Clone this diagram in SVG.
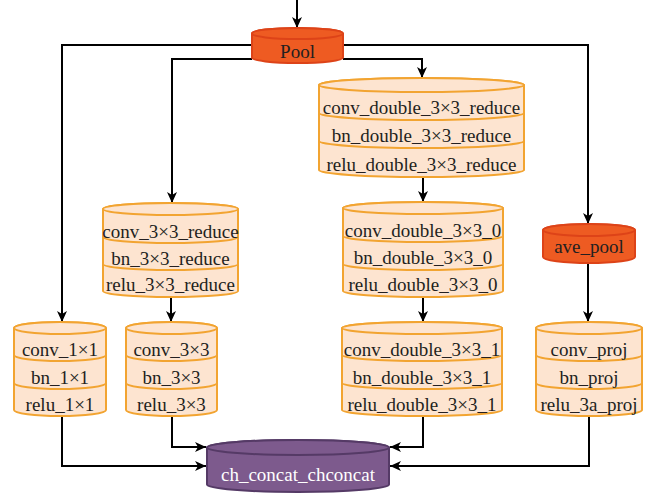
<svg xmlns="http://www.w3.org/2000/svg" width="649" height="494" viewBox="0 0 649 494">
<style>
.stk{fill:#FDE4D0;stroke:#F2A431;stroke-width:2}
.pool{fill:#EE5B22;stroke:#DD4318;stroke-width:2}
.cat{fill:#7D5A8D;stroke:#553A66;stroke-width:2}
.t{font-family:"Liberation Serif","Times New Roman",serif;font-size:19px;fill:#231F20;text-anchor:middle}
.tw{font-family:"Liberation Serif","Times New Roman",serif;font-size:19px;fill:#FFFFFF;text-anchor:middle}
.e{fill:none;stroke:#000;stroke-width:2}
</style>
<defs>
<marker id="ah" markerUnits="userSpaceOnUse" markerWidth="12" markerHeight="10" refX="11" refY="5" orient="auto">
<path d="M0,0 L11,5 L0,10 L3,5 z" fill="#000"/>
</marker>
</defs>
<g id="connectors">
<path class="e" d="M297 0 V28" marker-end="url(#ah)"/>
<path class="e" d="M252 45 H62 V322" marker-end="url(#ah)"/>
<path class="e" d="M252 59 H172 V203" marker-end="url(#ah)"/>
<path class="e" d="M343 45 H588 V224" marker-end="url(#ah)"/>
<path class="e" d="M343 59 H422 V78" marker-end="url(#ah)"/>
<path class="e" d="M423 177 V202" marker-end="url(#ah)"/>
<path class="e" d="M171 297 V322" marker-end="url(#ah)"/>
<path class="e" d="M423 297 V322" marker-end="url(#ah)"/>
<path class="e" d="M588 263 V322" marker-end="url(#ah)"/>
<path class="e" d="M62 416 V466 H206" marker-end="url(#ah)"/>
<path class="e" d="M172 416 V447 H206" marker-end="url(#ah)"/>
<path class="e" d="M423 416 V447 H390" marker-end="url(#ah)"/>
<path class="e" d="M589 416 V466 H390" marker-end="url(#ah)"/>
</g>
<g id="pool">
<path class="pool" d="M252 33.5 V57.5 A45.5 5.5 0 0 0 343 57.5 V33.5 A45.5 5.5 0 0 0 252 33.5 Z"/>
<ellipse class="pool" cx="297.5" cy="33.5" rx="45.5" ry="5.5"/>
<text class="t" x="297.5" y="58">Pool</text>
</g>
<g id="double_3x3_reduce">
<path class="stk" d="M319 85 V170 A102.5 7 0 0 0 524 170 V85 A102.5 7 0 0 0 319 85 Z"/>
<ellipse class="stk" cx="421.5" cy="85" rx="102.5" ry="7"/>
<path class="stk" d="M319 113 A102.5 7 0 0 0 524 113 M319 141 A102.5 7 0 0 0 524 141"/>
<text class="t" x="421.5" y="114">conv_double_3×3_reduce</text>
<text class="t" x="421.5" y="142">bn_double_3×3_reduce</text>
<text class="t" x="421.5" y="171">relu_double_3×3_reduce</text>
</g>
<g id="3x3_reduce">
<path class="stk" d="M103 209 V291 A67.5 6 0 0 0 238 291 V209 A67.5 6 0 0 0 103 209 Z"/>
<ellipse class="stk" cx="170.5" cy="209" rx="67.5" ry="6"/>
<path class="stk" d="M103 237 A67.5 6 0 0 0 238 237 M103 264 A67.5 6 0 0 0 238 264"/>
<text class="t" x="170.5" y="238">conv_3×3_reduce</text>
<text class="t" x="170.5" y="265">bn_3×3_reduce</text>
<text class="t" x="170.5" y="291">relu_3×3_reduce</text>
</g>
<g id="double_3x3_0">
<path class="stk" d="M343 208 V291 A80 6 0 0 0 503 291 V208 A80 6 0 0 0 343 208 Z"/>
<ellipse class="stk" cx="423" cy="208" rx="80" ry="6"/>
<path class="stk" d="M343 236 A80 6 0 0 0 503 236 M343 264 A80 6 0 0 0 503 264"/>
<text class="t" x="423" y="237">conv_double_3×3_0</text>
<text class="t" x="423" y="264">bn_double_3×3_0</text>
<text class="t" x="423" y="291">relu_double_3×3_0</text>
</g>
<g id="ave_pool">
<path class="pool" d="M543 230 V257 A46 6 0 0 0 635 257 V230 A46 6 0 0 0 543 230 Z"/>
<ellipse class="pool" cx="589" cy="230" rx="46" ry="6"/>
<text class="t" x="589" y="253">ave_pool</text>
</g>
<g id="1x1">
<path class="stk" d="M14 328 V410 A46 6 0 0 0 106 410 V328 A46 6 0 0 0 14 328 Z"/>
<ellipse class="stk" cx="60" cy="328" rx="46" ry="6"/>
<path class="stk" d="M14 355 A46 6 0 0 0 106 355 M14 383 A46 6 0 0 0 106 383"/>
<text class="t" x="60" y="356">conv_1×1</text>
<text class="t" x="60" y="384">bn_1×1</text>
<text class="t" x="60" y="411">relu_1×1</text>
</g>
<g id="3x3">
<path class="stk" d="M126 328 V410 A45.5 6 0 0 0 217 410 V328 A45.5 6 0 0 0 126 328 Z"/>
<ellipse class="stk" cx="171.5" cy="328" rx="45.5" ry="6"/>
<path class="stk" d="M126 355 A45.5 6 0 0 0 217 355 M126 383 A45.5 6 0 0 0 217 383"/>
<text class="t" x="171.5" y="356">conv_3×3</text>
<text class="t" x="171.5" y="384">bn_3×3</text>
<text class="t" x="171.5" y="411">relu_3×3</text>
</g>
<g id="double_3x3_1">
<path class="stk" d="M342 328 V410 A80 6 0 0 0 502 410 V328 A80 6 0 0 0 342 328 Z"/>
<ellipse class="stk" cx="422" cy="328" rx="80" ry="6"/>
<path class="stk" d="M342 355 A80 6 0 0 0 502 355 M342 383 A80 6 0 0 0 502 383"/>
<text class="t" x="422" y="356">conv_double_3×3_1</text>
<text class="t" x="422" y="384">bn_double_3×3_1</text>
<text class="t" x="422" y="411">relu_double_3×3_1</text>
</g>
<g id="proj">
<path class="stk" d="M536 328 V410 A53 6 0 0 0 642 410 V328 A53 6 0 0 0 536 328 Z"/>
<ellipse class="stk" cx="589" cy="328" rx="53" ry="6"/>
<path class="stk" d="M536 355 A53 6 0 0 0 642 355 M536 383 A53 6 0 0 0 642 383"/>
<text class="t" x="589" y="356">conv_proj</text>
<text class="t" x="589" y="384">bn_proj</text>
<text class="t" x="589" y="411">relu_3a_proj</text>
</g>
<g id="concat">
<path class="cat" d="M207 447.5 V484.5 A91 7.5 0 0 0 389 484.5 V447.5 A91 7.5 0 0 0 207 447.5 Z"/>
<ellipse class="cat" cx="298" cy="447.5" rx="91" ry="7.5"/>
<text class="tw" x="298" y="481">ch_concat_chconcat</text>
</g>
</svg>
